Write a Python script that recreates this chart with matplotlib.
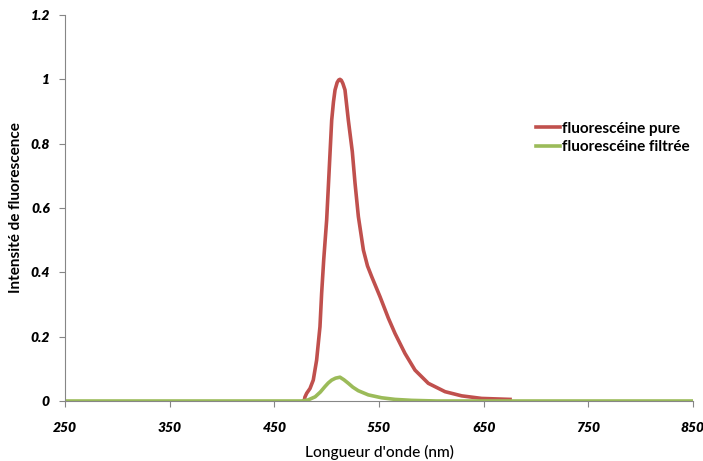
import matplotlib
matplotlib.use('Agg')
import matplotlib.pyplot as plt

plt.rcParams['font.family'] = ['Lato', 'DejaVu Sans']

# fluorescéine pure
x_pure = [478.7, 479.2, 480.9, 484.1, 487.2, 490.4, 493.6, 495.2, 497.2, 500, 501.6,
          503.2, 504.8, 506.5, 508, 510, 511.5, 512.7, 514, 515.5, 517.5, 520.7,
          524.5, 527.1, 530.3, 535.1, 539, 543.1, 551, 559, 565.3, 574.8, 584.4,
          597.1, 613.1, 629, 648.1, 675.2]
y_pure = [0.003, 0.012, 0.024, 0.039, 0.065, 0.127, 0.231, 0.335, 0.44, 0.563, 0.666,
          0.77, 0.873, 0.93, 0.967, 0.99, 0.998, 1.0, 0.997, 0.987, 0.967, 0.873,
          0.775, 0.677, 0.573, 0.469, 0.42, 0.386, 0.324, 0.257, 0.21, 0.148, 0.096,
          0.055, 0.029, 0.016, 0.008, 0.005]

# fluorescéine filtrée
x_filt = [250, 350, 450, 476, 482, 489, 494, 498.4, 501.5, 504.8, 508.5, 512.7, 516.5,
          520.7, 525, 530.2, 539.8, 552.5, 565.3, 581.2, 605, 700, 850]
y_filt = [0, 0, 0, 0, 0.003, 0.013, 0.028, 0.045, 0.056, 0.065, 0.071, 0.074, 0.066,
          0.055, 0.043, 0.032, 0.019, 0.01, 0.005, 0.002, 0, 0, 0]

xticks = [250, 350, 450, 550, 650, 750, 850]
yticks = [0, 0.2, 0.4, 0.6, 0.8, 1.0, 1.2]
ytick_labels = ['0', '0.2', '0.4', '0.6', '0.8', '1', '1.2']

fig = plt.figure(figsize=(7.03, 4.61), dpi=100)
ax = fig.add_axes([65 / 703, 60 / 461, 628 / 703, 386 / 461])

ax.plot(x_pure, y_pure, color='#C0504D', linewidth=2.6, label='fluorescéine pure',
        solid_joinstyle='round')
ax.plot(x_filt, y_filt, color='#9BBB59', linewidth=2.6, label='fluorescéine filtrée',
        solid_joinstyle='round')

ax.set_xlim(250, 850)
ax.set_ylim(0, 1.2)
ax.set_xticks(xticks)
ax.set_xticklabels([str(v) for v in xticks], fontsize=10, fontweight='heavy', style='italic')
ax.set_yticks(yticks)
ax.set_yticklabels(ytick_labels, fontsize=10, fontweight='heavy', style='italic')
ax.tick_params(axis='x', length=4, pad=11, color='#868686')
ax.tick_params(axis='y', length=4, pad=7, color='#868686')

for s in ['top', 'right']:
    ax.spines[s].set_visible(False)
for s in ['left', 'bottom']:
    ax.spines[s].set_color('#868686')
    ax.spines[s].set_linewidth(0.8)

ax.set_xlabel("Longueur d'onde (nm)", fontsize=11.2, fontweight='medium', labelpad=8)
ax.set_ylabel('Intensité de fluorescence', fontsize=11, fontweight='bold', labelpad=5)

leg = ax.legend(loc='upper left', bbox_to_anchor=(522 / 703, 1 - 108 / 461),
                bbox_transform=fig.transFigure, frameon=False, handlelength=1.6,
                handletextpad=0.15, labelspacing=0.3,
                prop={'weight': 'bold', 'size': 11})

fig.savefig('out.png', dpi=100)
